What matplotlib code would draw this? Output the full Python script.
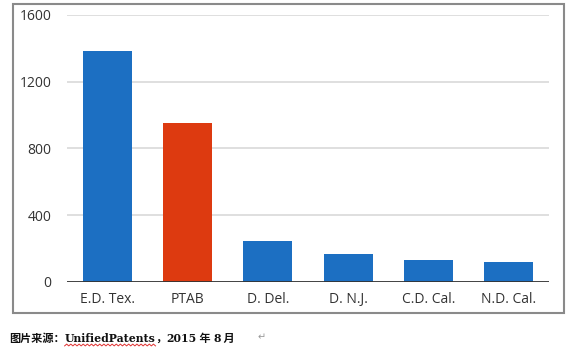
import numpy as np
import matplotlib
matplotlib.use('Agg')
import matplotlib.pyplot as plt
from matplotlib.patches import Rectangle

# Donnees
categories = ['E.D. Tex.', 'PTAB', 'D. Del.', 'D. N.J.', 'C.D. Cal.', 'N.D. Cal.']
valeurs = [1386, 954, 246, 168, 132, 120]
couleurs = ['#1c6fc2', '#dd3a10', '#1c6fc2', '#1c6fc2', '#1c6fc2', '#1c6fc2']
yticks = [0, 400, 800, 1200, 1600]
# legende decoupee en morceaux (chinois / latin)
legende = ['图片来源：', 'UnifiedPatents', '，', '2015', ' 年 ', '8', ' 月']

fig = plt.figure(figsize=(5.85, 3.56), dpi=100)
ax = fig.add_axes([0.1145, 0.2079, 0.824, 0.75])

x = np.arange(len(categories))
ax.bar(x, valeurs, width=0.61, color=couleurs, zorder=3)

ax.set_xlim(-0.5, len(categories) - 0.5)
ax.set_ylim(0, 1600)
ax.set_yticks(yticks)
ax.set_xticks(x)
ax.set_xticklabels(categories, fontfamily='Open Sans', fontsize=10, color='#333333')
ax.set_yticklabels([str(v) for v in yticks], fontfamily='Open Sans', fontsize=10, color='#333333')
ax.tick_params(axis='both', length=0)
ax.tick_params(axis='y', pad=11)
ax.tick_params(axis='x', pad=7)

# Grille et axes
for v in yticks[1:]:
    ax.axhline(v, color='#d9d9d9', lw=1.2, zorder=1)
ax.axhline(0, color='#333333', lw=1.3, zorder=4)
for s in ax.spines.values():
    s.set_visible(False)

# Cadre autour du graphique
fig.patches.append(Rectangle((0.0222, 0.1208), 0.942, 0.868, transform=fig.transFigure,
                             fill=False, edgecolor='#8a8a8a', lw=1.5))

# Legende sous le graphique, morceau par morceau
renderer = fig.canvas.get_renderer()
xpos = 9
ybase = 1 - 342 / 356
souligne = None
for morceau in legende:
    if any(ord(c) > 127 for c in morceau):
        t = fig.text(xpos / 585, ybase, morceau, fontsize=8, fontweight='bold',
                     family=['Noto Sans CJK SC'], va='baseline', ha='left', color='#111111')
    else:
        t = fig.text(xpos / 585, ybase, morceau, fontsize=7.8, fontweight='bold',
                     family=['DejaVu Serif'], va='baseline', ha='left', color='#111111')
    bb = t.get_window_extent(renderer)
    if morceau == 'UnifiedPatents':
        souligne = (xpos, bb.x1)
    xpos = bb.x1

# soulignement ondule rouge (correcteur orthographique)
n = int(souligne[1] - souligne[0]) // 2
xs = np.linspace(souligne[0], souligne[1], n)
ys = 345 + 0.9 * np.where(np.arange(n) % 2 == 0, 1, -1)
fig.add_artist(plt.Line2D(xs / 585, 1 - ys / 356, transform=fig.transFigure,
                          color='#e03030', lw=0.7))
fig.text(258 / 585, 1 - 337 / 356, '↵', fontsize=7, color='#999999',
         family='DejaVu Sans', va='center', ha='left')

plt.savefig('out.png', dpi=100)
